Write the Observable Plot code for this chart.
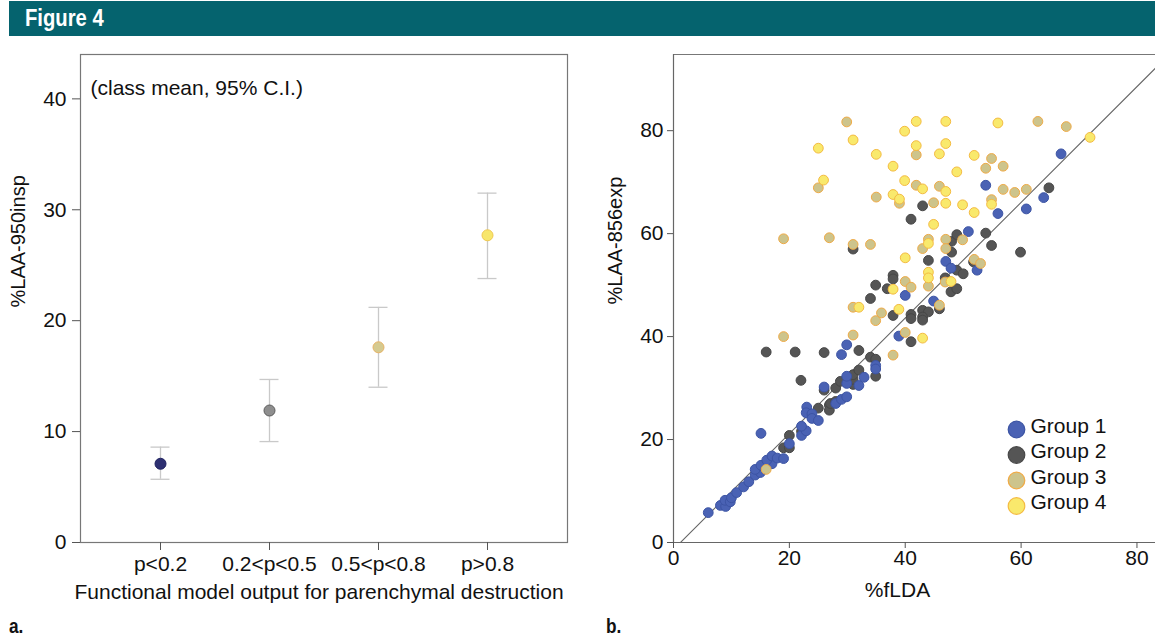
<!DOCTYPE html>
<html>
<head>
<meta charset="utf-8">
<script src="https://cdn.jsdelivr.net/npm/d3@7"></script>
<script src="https://cdn.jsdelivr.net/npm/@observablehq/plot@0.6"></script>
<style>
  html, body { margin: 0; padding: 0; background: #fff; }
  #page { position: relative; width: 1155px; height: 643px; overflow: hidden; background: #fff; font-family: "Liberation Sans", Arial, sans-serif; }
  #header { position: absolute; left: 9px; top: 1px; width: 1146px; height: 35px; background: #05636e; }
  #header span { position: absolute; left: 16px; top: 3px; color: #fff; font-family: "Liberation Sans", Arial, sans-serif; font-weight: bold; font-size: 23px; line-height: 28px; transform: scaleX(0.88); transform-origin: left center; white-space: nowrap; }
  .panel { position: absolute; top: 40px; }
  .plabel { position: absolute; top: 614px; line-height: 24px; font-family: "Liberation Sans", Arial, sans-serif; font-weight: bold; font-size: 21px; color: #111; transform: scaleX(0.82); transform-origin: left center; }
</style>
</head>
<body>
<div id="page">
  <div id="header"><span>Figure 4</span></div>
  <div id="left" class="panel" style="left:0px"></div>
  <div id="right" class="panel" style="left:600px"></div>
  <div class="plabel" style="left:9px">a.</div>
  <div class="plabel" style="left:606px">b.</div>
</div>
<script>
// ---------- Panel a: class means with 95% CI ----------
const categories = ["p<0.2", "0.2<p<0.5", "0.5<p<0.8", "p>0.8"];
const classMeans = [7.1, 11.9, 17.6, 27.7];
const ciLow = [5.7, 9.1, 14.0, 23.8];
const ciHigh = [8.6, 14.7, 21.2, 31.5];
const classFills = ["#2e3072", "#8e8e8e", "#d5ca90", "#f7e66c"];
const classStrokes = ["#1f2160", "#5a5a5a", "#e8b264", "#f0c850"];
const leftYTicks = [0, 10, 20, 30, 40];

// ---------- Panel b: %LAA-856exp vs %fLDA ----------
const groupNames = ["Group 1", "Group 2", "Group 3", "Group 4"];
const group1 = [[6.0,5.8],[8.1,7.2],[9.0,7.0],[8.9,8.2],[9.8,7.9],[10.0,8.7],[10.9,9.7],[12.1,10.8],[13.0,11.8],[14.1,13.1],[15.0,13.6],[14.1,14.2],[15.1,15.0],[17.0,15.3],[16.1,16.0],[17.0,16.8],[17.9,16.4],[19.0,16.3],[20.0,19.2],[22.1,20.8],[22.9,21.7],[22.1,22.6],[15.1,21.2],[23.0,26.3],[22.9,25.2],[23.9,25.0],[23.9,24.1],[25.0,23.7],[26.0,30.2],[28.0,27.0],[29.0,27.8],[29.9,28.3],[29.9,30.9],[32.0,30.5],[29.9,32.3],[32.9,32.1],[34.9,34.4],[34.9,33.7],[29.0,36.5],[29.9,38.4],[38.9,40.1],[40.0,48.0],[44.9,46.9],[47.0,54.6],[47.9,53.3],[52.4,52.9],[50.9,60.4],[56.0,63.9],[60.9,64.8],[63.9,67.0],[53.9,69.4],[66.9,75.5]];
const group2 = [[16.0,37.0],[21.0,37.0],[26.0,36.9],[22.0,31.5],[20.0,20.8],[22.1,21.6],[19.0,18.4],[20.0,18.4],[25.0,26.1],[26.9,26.7],[26.9,25.7],[27.1,27.0],[28.0,27.4],[26.0,29.6],[28.0,30.0],[28.8,31.3],[31.0,30.7],[31.0,31.7],[31.0,32.6],[32.0,33.5],[34.9,32.3],[32.0,37.3],[34.0,36.0],[34.9,35.6],[34.0,47.4],[34.9,50.0],[36.9,49.3],[37.9,51.9],[37.9,51.2],[37.9,44.1],[41.0,44.3],[41.0,43.5],[43.0,45.1],[44.0,44.8],[43.0,43.8],[43.0,43.2],[41.0,39.0],[45.9,45.4],[46.9,51.4],[47.9,48.7],[48.9,49.3],[48.9,52.9],[50.0,52.2],[51.8,54.5],[44.0,54.8],[48.0,56.4],[48.0,58.5],[48.9,59.8],[53.9,60.1],[54.9,57.7],[59.9,56.4],[64.8,68.9],[43.0,65.4],[41.0,62.8],[31.0,57.0]];
const group3 = [[16.0,14.2],[19.0,40.0],[31.0,40.3],[37.9,36.4],[40.0,40.8],[34.9,43.1],[35.9,44.6],[31.0,45.7],[45.9,46.1],[40.0,50.7],[41.0,49.6],[44.0,49.8],[46.9,50.6],[19.0,59.0],[26.9,59.2],[31.0,57.9],[34.0,57.9],[43.0,57.1],[44.0,58.9],[47.0,58.9],[47.0,57.1],[49.9,58.8],[51.9,55.0],[53.0,54.2],[39.0,65.9],[35.0,67.1],[44.9,66.0],[54.9,66.6],[25.0,68.9],[41.9,69.4],[45.9,69.2],[56.9,68.6],[58.9,68.0],[60.9,68.6],[41.9,75.3],[53.9,72.7],[54.9,74.6],[56.9,73.1],[29.9,81.7],[62.9,81.8],[67.8,80.8]];
const group4 = [[32.0,45.7],[38.9,45.3],[37.9,49.2],[44.0,52.5],[44.0,51.4],[47.9,50.7],[43.0,39.7],[40.0,55.3],[44.0,58.1],[44.9,61.8],[51.9,64.1],[47.0,65.9],[49.9,65.6],[54.9,65.7],[37.9,67.6],[39.0,66.7],[43.0,68.7],[47.0,68.2],[25.9,70.4],[39.9,70.3],[48.9,72.0],[37.9,73.1],[35.0,75.4],[45.9,75.5],[51.9,75.2],[25.0,76.6],[41.9,77.1],[47.0,77.5],[31.0,78.2],[39.9,79.9],[41.9,81.8],[47.0,81.8],[56.0,81.5],[71.9,78.7]];
const groupFills = ["#4a62b4", "#555555", "#cdc48c", "#f9e96c"];
const groupStrokes = ["#3c54a4", "#474747", "#f0aa45", "#f4bb42"];
const refLine = [[1.2, 0], [86.0, 95.3]];
const rightTicks = [0, 20, 40, 60, 80];
const xMaxB = 83.2, yMaxB = 94.8;

const FONT = '"Liberation Sans", Arial, sans-serif';

// ----- build panel a -----
const classTable = categories.map((c, i) => ({cat: c, mean: classMeans[i], lo: ciLow[i], hi: ciHigh[i], fill: classFills[i], stroke: classStrokes[i]}));

const left = Plot.plot({
  width: 590, height: 580,
  marginLeft: 80, marginRight: 23, marginTop: 14, marginBottom: 78,
  style: {fontFamily: FONT, fontSize: "21px", color: "#111", background: "transparent", overflow: "visible"},
  x: {type: "point", domain: categories, padding: 0.714},
  y: {domain: [0, 44]},
  marks: [
    Plot.frame({stroke: "#777", strokeWidth: 1.2}),
    Plot.ruleX(classTable, {x: "cat", y1: "lo", y2: "hi", stroke: "#c9c9c9", strokeWidth: 1.3}),
    Plot.ruleY(classTable, {x1: "cat", x2: "cat", y: "lo", insetLeft: -9.5, insetRight: -9.5, stroke: "#c9c9c9", strokeWidth: 1.3}),
    Plot.ruleY(classTable, {x1: "cat", x2: "cat", y: "hi", insetLeft: -9.5, insetRight: -9.5, stroke: "#c9c9c9", strokeWidth: 1.3}),
    Plot.dot(classTable, {x: "cat", y: "mean", r: 5.5, fill: "fill", stroke: "stroke", strokeWidth: 1}),
    Plot.axisY({ticks: leftYTicks, tickSize: 8, tickPadding: 6, fontSize: 21, label: null, stroke: "#555"}),
    Plot.axisX({tickSize: 8, tickPadding: 6, fontSize: 21, label: null, stroke: "#555"}),
    Plot.text(["%LAA-950insp"], {frameAnchor: "left", dx: -62, dy: 9, rotate: -90, fontSize: 20, fill: "#111"}),
    Plot.text(["Functional model output for parenchymal destruction"], {frameAnchor: "bottom", dx: -5, dy: 56, fontSize: 21, fill: "#111"}),
    Plot.text(["(class mean, 95% C.I.)"], {frameAnchor: "top-left", dx: 10, dy: 26, textAnchor: "start", fontSize: 21, fill: "#111"})
  ]
});
document.getElementById("left").appendChild(left);

// ----- build panel b -----
const groups = [group1, group2, group3, group4];
const drawOrder = [1, 0, 2, 3];
const dotMarks = drawOrder.map(gi => Plot.dot(groups[gi], {x: d => d[0], y: d => d[1], r: 4.9, fill: groupFills[gi], stroke: groupStrokes[gi], strokeWidth: 1}));

const legendMarks = groupNames.flatMap((name, i) => [
  Plot.dot([name], {frameAnchor: "bottom-left", dx: 343, dy: -113 + i * 25.5, r: 8.3, fill: groupFills[i], stroke: groupStrokes[i], strokeWidth: 1.2}),
  Plot.text([name], {frameAnchor: "bottom-left", dx: 357, dy: -110 + i * 25.5, text: d => d, textAnchor: "start", fontSize: 21, fill: "#111"})
]);

const right = Plot.plot({
  width: 555, height: 580,
  marginLeft: 73, marginRight: 0, marginTop: 14, marginBottom: 78,
  style: {fontFamily: FONT, fontSize: "21px", color: "#111", background: "transparent", overflow: "visible"},
  x: {domain: [0, xMaxB]},
  y: {domain: [0, yMaxB]},
  marks: [
    Plot.ruleY([yMaxB], {stroke: "#777", strokeWidth: 1.2}),
    Plot.line(refLine, {x: d => d[0], y: d => d[1], stroke: "#666", strokeWidth: 1.1, clip: true}),
    ...dotMarks,
    Plot.ruleX([0], {stroke: "#666", strokeWidth: 1.2}),
    Plot.ruleY([0], {stroke: "#666", strokeWidth: 1.2}),
    Plot.axisY({ticks: rightTicks, tickSize: 6, tickPadding: 4, fontSize: 21, label: null, stroke: "#555"}),
    Plot.axisX({ticks: rightTicks, tickSize: 6, tickPadding: 2, fontSize: 21, label: null, stroke: "#555"}),
    Plot.text(["%LAA-856exp"], {frameAnchor: "left", dx: -58, dy: 6, rotate: -90, fontSize: 20, fill: "#111"}),
    Plot.text(["%fLDA"], {frameAnchor: "bottom", dx: -17, dy: 54, fontSize: 21, fill: "#111"}),
    ...legendMarks
  ]
});
document.getElementById("right").appendChild(right);
</script>
</body>
</html>
